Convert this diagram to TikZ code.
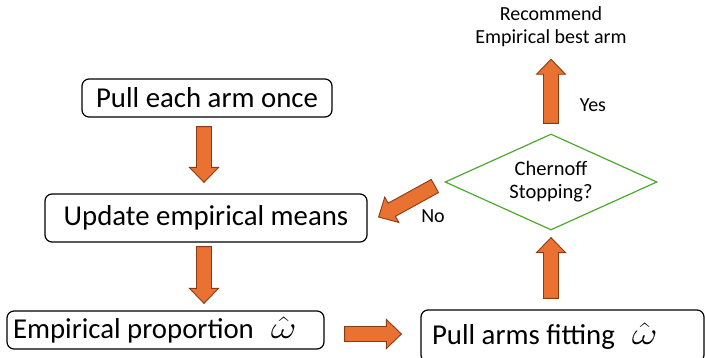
\documentclass[tikz,border=0pt]{standalone}
\usepackage{fontspec}
\setmainfont{Carlito}
\usetikzlibrary{calc,shapes.geometric}

\definecolor{arrowfill}{HTML}{E97132}
\definecolor{arrowedge}{HTML}{8A3B12}
\definecolor{stopgreen}{HTML}{4EA72E}

\newcommand{\omhat}{\scalebox{1.6}[1.25]{\fontsize{24.88}{26}\selectfont$\hat{\omega}$}}

\tikzset{
  stepbox/.style={draw, rounded corners=7pt, line width=1.2pt, inner sep=0pt,
    font=\fontsize{28.8}{32}\selectfont},
  smalltext/.style={inner sep=0pt, font=\fontsize{20}{23}\selectfont},
  fatarrow/.style={fill=arrowfill, draw=arrowedge, line width=0.9pt,
    to path={let \p1=(\tikztostart), \p2=(\tikztotarget),
      \n1={atan2(\y2-\y1,\x2-\x1)}, \n2={veclen(\x2-\x1,\y2-\y1)-15pt} in
      -- ++(\n1+90:7.5pt) -- ++(\n1:\n2) -- ++(\n1+90:7pt) -- (\p2)
      -- ++(\n1+224.03:20.86pt) -- ++(\n1+90:7pt) -- ++(\n1+180:\n2) -- cycle}}
}

\begin{document}
\begin{tikzpicture}[x=1pt,y=-1pt]
\useasboundingbox (0,0) rectangle (705,357);
\clip (0,0) rectangle (705,357);

% boxes
\node[stepbox, minimum width=250pt, minimum height=38pt] (pull) at (207,98) {Pull each arm once};
\node[stepbox, minimum width=322pt, minimum height=48pt] (upd) at (206,218) {Update empirical means};
\node[stepbox, minimum width=317pt, minimum height=38pt, text width=305pt, inner xsep=6pt, align=flush left] (prop) at (165.5,330) {Empirical proportion\hspace{17pt}\omhat};
\node[stepbox, minimum width=283pt, minimum height=52pt, text width=261pt, inner xsep=11pt, align=flush left] (fit) at (562.5,336) {Pull arms fitting\hspace{17pt}\omhat};

% stopping test and result
\node[diamond, draw=stopgreen, line width=1.2pt, aspect=2.2, minimum width=212pt, minimum height=96pt,
  inner sep=0pt, align=center, font=\fontsize{20.5}{23}\selectfont] (stop) at (551,182) {Chernoff\\Stopping?};
\node[smalltext, align=center] (rec) at (551,27) {Recommend\\Empirical best arm};
\node[smalltext] (yes) at (593,105) {Yes};
\node[smalltext] (no) at (433,216) {No};

% arrows
\draw[fatarrow] ($(pull.south)+(-3,9)$) to ($(upd.north)+(-2,-11)$);
\draw[fatarrow] ($(upd.south)+(-2,4)$) to ($(prop.north)+(38.5,-7)$);
\draw[fatarrow] ($(prop.east)+(20,4)$) to ($(fit.west)+(-19,-2)$);
\draw[fatarrow] ($(fit.north)+(-11.5,-11)$) to ($(stop.south)+(0,7)$);
\draw[fatarrow] ($(stop.north)+(0,-10)$) to ($(rec.south)+(0,12)$);
\draw[fatarrow] ($(stop.west)+(-9.5,4)$) to ($(upd.east)+(11,-1)$);
\end{tikzpicture}
\end{document}
